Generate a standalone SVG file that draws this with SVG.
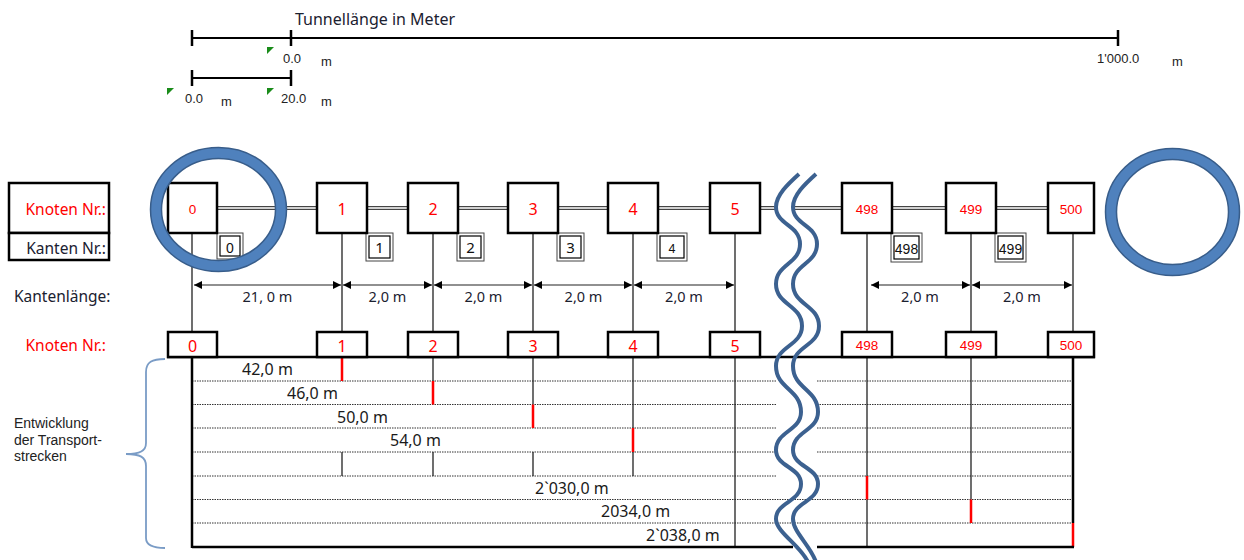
<svg xmlns="http://www.w3.org/2000/svg" width="1244" height="560" viewBox="0 0 1244 560">
<style>
.box{fill:#fff;stroke:#000;stroke-width:2.5}
.nl{fill:#f00;font-family:"Noto Sans",sans-serif;font-size:16px;text-anchor:middle}
.ns{fill:#f00;font-family:"Liberation Sans",Arial,sans-serif;font-size:13.5px;text-anchor:middle}
.ebo{fill:#fff;stroke:#444;stroke-width:1}
.ebi{fill:none;stroke:#000;stroke-width:1.2}
.etn{fill:#111;font-family:"Noto Sans",sans-serif;font-size:15px;text-anchor:middle}
.ets{fill:#111;font-family:"Liberation Sans",Arial,sans-serif;font-size:14px;text-anchor:middle}
.lbl{font-family:"Noto Sans",sans-serif;font-size:15.5px;fill:#1b2130}
.red{fill:#f00}
.dim{font-family:"Noto Sans",sans-serif;font-size:14.5px;fill:#1b2130;text-anchor:middle}
.tt{font-family:"Noto Sans",sans-serif;font-size:16px;fill:#1b2130}
.sc{font-family:"Liberation Sans",Arial,sans-serif;font-size:13px;fill:#222}
.vl{stroke:#222;stroke-width:1.3;fill:none}
.thick{stroke:#000;stroke-width:2.5;fill:none}
.dot{stroke:#333;stroke-width:1;stroke-dasharray:1.5 1;fill:none}
.rs{stroke:#f00;stroke-width:2.5;fill:none}
.eo{stroke:#444;stroke-width:4;fill:none}
.ei{stroke:#fff;stroke-width:1.5;fill:none}
.arr{stroke:#222;stroke-width:1.2;fill:none;marker-start:url(#ah);marker-end:url(#ah)}
.wave{stroke:#3c6190;stroke-width:4;fill:none}
.tri{fill:#1a8c1a}
.rt{font-family:"Noto Sans",sans-serif;font-size:16px;fill:#1a1a1a}
</style>
<defs>
<marker id="ah" viewBox="0 0 10 10" refX="10" refY="5" markerWidth="9" markerHeight="8" markerUnits="userSpaceOnUse" orient="auto-start-reverse">
<path d="M0,0 L10,5 L0,10 z" fill="#000"/>
</marker>
</defs>
<rect width="1244" height="560" fill="#fff"/>

<!-- scale -->
<g id="scale">
<text class="tt" x="295" y="25">Tunnellänge in Meter</text>
<line class="thick" x1="192" y1="38" x2="1118" y2="38" style="stroke-width:2"/>
<line class="thick" x1="192" y1="30" x2="192" y2="46"/>
<line class="thick" x1="291" y1="30" x2="291" y2="46"/>
<line class="thick" x1="1118" y1="30" x2="1118" y2="46"/>
<line class="thick" x1="192" y1="78" x2="291" y2="78" style="stroke-width:2"/>
<line class="thick" x1="192" y1="70" x2="192" y2="86"/>
<line class="thick" x1="291" y1="70" x2="291" y2="86"/>
<polygon class="tri" points="267,47 274,47 267,54"/>
<polygon class="tri" points="167,88 174,88 167,95"/>
<polygon class="tri" points="267,88 274,88 267,95"/>
<text class="sc" x="283" y="63">0.0</text>
<text class="sc" x="321" y="66">m</text>
<text class="sc" x="1097" y="63">1'000.0</text>
<text class="sc" x="1172" y="66">m</text>
<text class="sc" x="185" y="103">0.0</text>
<text class="sc" x="221" y="106">m</text>
<text class="sc" x="281" y="103">20.0</text>
<text class="sc" x="321" y="106">m</text>
</g>

<!-- left labels -->
<g id="labels">
<rect x="9" y="183" width="100" height="50" fill="#fff" stroke="#000" stroke-width="2.5"/>
<rect x="9" y="233" width="100" height="27" fill="#fff" stroke="#000" stroke-width="2.5"/>
<text class="lbl red" x="106" y="215" text-anchor="end">Knoten Nr.:</text>
<text class="lbl" x="106" y="254" text-anchor="end">Kanten Nr.:</text>
<text class="lbl" x="14" y="302">Kantenlänge:</text>
<text class="lbl red" x="106" y="351" text-anchor="end">Knoten Nr.:</text>
<text font-family="'Liberation Sans',Arial,sans-serif" font-size="14" fill="#222">
<tspan x="14" y="428">Entwicklung</tspan>
<tspan x="14" y="445">der Transport-</tspan>
<tspan x="14" y="461">strecken</tspan>
</text>
<path d="M165,359 C152,359 146,362 146,372 L146,443 C146,451 140,454 126,454 C140,454 146,457 146,466 L146,538 C146,545 152,548 165,548" stroke="#7a9cc6" stroke-width="1.8" fill="none"/>
</g>

<!-- connectors -->
<g id="connectors">
<path class="eo" d="M217,208 H317 M366,208 H408 M458,208 H508 M558,208 H608 M658,208 H710 M760,208 H777 M792,208 H842 M892,208 H946 M996,208 H1048"/>
<path class="ei" d="M217,208 H317 M366,208 H408 M458,208 H508 M558,208 H608 M658,208 H710 M760,208 H777 M792,208 H842 M892,208 H946 M996,208 H1048"/>
<path class="vl" d="M192,233 V332 M342,233 V332 M433,233 V332 M533,233 V332 M633,233 V332 M735,233 V332 M867,233 V332 M971,233 V332 M1073,233 V332"/>
<line class="arr" x1="194" y1="285" x2="341" y2="285"/>
<line class="arr" x1="343" y1="285" x2="432" y2="285"/>
<line class="arr" x1="434" y1="285" x2="532" y2="285"/>
<line class="arr" x1="534" y1="285" x2="632" y2="285"/>
<line class="arr" x1="634" y1="285" x2="734" y2="285"/>
<line class="arr" x1="871" y1="285" x2="970" y2="285"/>
<line class="arr" x1="972" y1="285" x2="1072" y2="285"/>
<text class="dim" x="267.5" y="302">21, 0 m</text>
<text class="dim" x="387.5" y="302">2,0 m</text>
<text class="dim" x="483.5" y="302">2,0 m</text>
<text class="dim" x="583.5" y="302">2,0 m</text>
<text class="dim" x="684" y="302">2,0 m</text>
<text class="dim" x="920" y="302">2,0 m</text>
<text class="dim" x="1022" y="302">2,0 m</text>
</g>

<!-- edge labels -->
<g id="edge-0"><rect class="ebo" x="217" y="233" width="26" height="26"/><rect class="ebi" x="220" y="236" width="20" height="20"/><text class="ets" x="230" y="252.5">0</text></g>
<g id="edge-1"><rect class="ebo" x="366" y="233" width="27" height="28"/><rect class="ebi" x="369" y="236" width="21" height="22"/><text class="etn" x="379.5" y="253">1</text></g>
<g id="edge-2"><rect class="ebo" x="457" y="233" width="27" height="28"/><rect class="ebi" x="460" y="236" width="21" height="22"/><text class="etn" x="470.5" y="253">2</text></g>
<g id="edge-3"><rect class="ebo" x="557" y="233" width="27" height="28"/><rect class="ebi" x="560" y="236" width="21" height="22"/><text class="etn" x="570.5" y="253">3</text></g>
<g id="edge-4"><rect class="ebo" x="657" y="233" width="30" height="28"/><rect class="ebi" x="660" y="236" width="24" height="22"/><text class="ets" x="672" y="252.5" style="font-size:12.5px">4</text></g>
<g id="edge-498"><rect class="ebo" x="891" y="233" width="31" height="29"/><rect class="ebi" x="894" y="236" width="25" height="23"/><text class="ets" x="906.5" y="253.5">498</text></g>
<g id="edge-499"><rect class="ebo" x="995" y="233" width="31" height="29"/><rect class="ebi" x="998" y="236" width="25" height="23"/><text class="ets" x="1010.5" y="253.5">499</text></g>

<!-- table -->
<g id="table">
<path class="dot" d="M192,381 H777 M817,381 H1073 M192,404.5 H777 M817,404.5 H1073 M192,428 H777 M817,428 H1073 M192,452 H777 M817,452 H1073 M192,476 H777 M817,476 H1073 M192,499.5 H1073 M192,523 H1073"/>
<path class="vl" d="M342,452 V476 M433,357 V381 M433,452 V476 M533,357 V404 M533,452 V476 M633,357 V428 M633,452 V476 M735,357 V547 M867,357 V476 M867,499.5 V547 M971,357 V499.5"/>
<path class="rs" d="M342,358 V381 M433,381 V404.5 M533,404.5 V428 M633,428 V452 M867,476 V499.5 M971,499.5 V523 M1073,523 V547"/>
<path class="thick" d="M167,357 H1095 M192,357 V548 M1073,357 V523 M192,547 H793 M817,547 H1074"/>
<text class="rt" x="242" y="375">42,0 m</text>
<text class="rt" x="287" y="399">46,0 m</text>
<text class="rt" x="337" y="423">50,0 m</text>
<text class="rt" x="390" y="446">54,0 m</text>
<text class="rt" x="535" y="494">2`030,0 m</text>
<text class="rt" x="601" y="517">2034,0 m</text>
<text class="rt" x="646" y="541">2`038,0 m</text>
</g>

<!-- nodes -->
<g id="node-0"><rect class="box" x="168" y="183" width="49" height="50"/><text class="ns" x="192.5" y="213.5">0</text><rect class="box" x="168" y="332" width="49" height="25"/><text class="nl" x="192.5" y="351.5">0</text></g>
<g id="node-1"><rect class="box" x="317" y="183" width="50" height="50"/><text class="nl" x="342" y="215">1</text><rect class="box" x="317" y="332" width="50" height="25"/><text class="nl" x="342" y="351.5">1</text></g>
<g id="node-2"><rect class="box" x="408" y="183" width="50" height="50"/><text class="nl" x="433" y="215">2</text><rect class="box" x="408" y="332" width="50" height="25"/><text class="nl" x="433" y="351.5">2</text></g>
<g id="node-3"><rect class="box" x="508" y="183" width="50" height="50"/><text class="nl" x="533" y="215">3</text><rect class="box" x="508" y="332" width="50" height="25"/><text class="nl" x="533" y="351.5">3</text></g>
<g id="node-4"><rect class="box" x="608" y="183" width="50" height="50"/><text class="nl" x="633" y="215">4</text><rect class="box" x="608" y="332" width="50" height="25"/><text class="nl" x="633" y="351.5">4</text></g>
<g id="node-5"><rect class="box" x="710" y="183" width="50" height="50"/><text class="nl" x="735" y="215">5</text><rect class="box" x="710" y="332" width="50" height="25"/><text class="nl" x="735" y="351.5">5</text></g>
<g id="node-498"><rect class="box" x="842" y="183" width="50" height="50"/><text class="ns" x="867" y="213.5">498</text><rect class="box" x="842" y="332" width="50" height="25"/><text class="ns" x="867" y="350">498</text></g>
<g id="node-499"><rect class="box" x="946" y="183" width="50" height="50"/><text class="ns" x="971" y="213.5">499</text><rect class="box" x="946" y="332" width="50" height="25"/><text class="ns" x="971" y="350">499</text></g>
<g id="node-500"><rect class="box" x="1048" y="183" width="46" height="50"/><text class="ns" x="1071" y="213.5">500</text><rect class="box" x="1048" y="332" width="46" height="25"/><text class="ns" x="1071" y="350">500</text></g>

<!-- break marks -->
<g id="break">
<path class="wave" d="M799,174 C788,184 776,195 776,207 C776,225 800,225 800,244 C800,264 776,264 776,284 C776,305 802,305 802,326 C802,346 776,346 776,366 C776,389 801,389 801,412 C801,431 776,431 776,450 C776,467 801,467 801,484 C801,502 776,502 776,519 C776,532 800,545 808,562"/>
<path class="wave" d="M816,174 C805,184 793,195 793,207 C793,225 817,225 817,244 C817,264 793,264 793,284 C793,305 819,305 819,326 C819,346 793,346 793,366 C793,389 818,389 818,412 C818,431 793,431 793,450 C793,467 818,467 818,484 C818,502 793,502 793,519 C793,532 810,545 816,562"/>
</g>

<!-- rings -->
<g id="ring-left">
<ellipse cx="218.5" cy="209.5" rx="62.5" ry="56.5" fill="none" stroke="#385D8A" stroke-width="12.5"/>
<ellipse cx="218.5" cy="209.5" rx="62.5" ry="56.5" fill="none" stroke="#4F81BD" stroke-width="9.5"/>
</g>
<g id="ring-right">
<ellipse cx="1172.5" cy="212" rx="61.5" ry="58" fill="none" stroke="#385D8A" stroke-width="12.5"/>
<ellipse cx="1172.5" cy="212" rx="61.5" ry="58" fill="none" stroke="#4F81BD" stroke-width="9.5"/>
</g>
</svg>
